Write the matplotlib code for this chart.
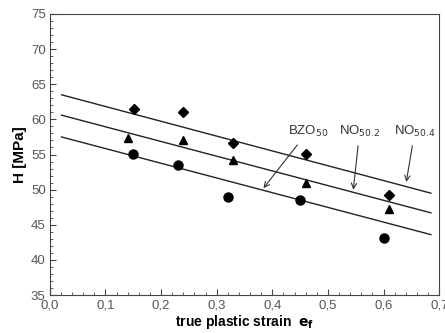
import numpy as np
import matplotlib
matplotlib.use("Agg")
from matplotlib import pyplot as plt
from matplotlib.ticker import MultipleLocator, FuncFormatter

# measured points
x_no504 = [0.151, 0.240, 0.330, 0.461, 0.610]
h_no504 = [61.5, 61.1, 56.6, 55.1, 49.2]
x_no502 = [0.140, 0.240, 0.330, 0.461, 0.610]
h_no502 = [57.4, 57.0, 54.2, 50.9, 47.2]
x_bzo50 = [0.150, 0.230, 0.320, 0.450, 0.600]
h_bzo50 = [55.1, 53.5, 49.0, 48.5, 43.1]

# fitted lines (start / end)
fit_x = [0.021, 0.685]
fit_no504 = [63.5, 49.5]
fit_no502 = [60.6, 46.7]
fit_bzo50 = [57.5, 43.6]

plt.rcParams['font.family'] = ['Liberation Sans', 'DejaVu Sans']

fig = plt.figure(figsize=(4.45, 3.33), dpi=100)
ax = fig.add_axes([0.112, 0.114, 0.875, 0.844])

for fy in (fit_no504, fit_no502, fit_bzo50):
    ax.plot(fit_x, fy, color='#222222', lw=1.0)

ax.plot(x_no504, h_no504, 'D', color='black', ms=5.5, ls='none')
ax.plot(x_no502, h_no502, '^', color='black', ms=6, ls='none')
ax.plot(x_bzo50, h_bzo50, 'o', color='black', ms=6.5, ls='none')

arrow = dict(arrowstyle='->', color='#333333', lw=0.8, shrinkA=3)
ax.annotate('BZO$_{50}$', xy=(0.381, 49.9), xytext=(0.464, 58.3),
            ha='center', va='center', fontsize=9.5, color='#333333', arrowprops=arrow)
ax.annotate('NO$_{50.2}$', xy=(0.545, 49.6), xytext=(0.557, 58.3),
            ha='center', va='center', fontsize=9.5, color='#333333', arrowprops=arrow)
ax.annotate('NO$_{50.4}$', xy=(0.640, 50.7), xytext=(0.656, 58.3),
            ha='center', va='center', fontsize=9.5, color='#333333', arrowprops=arrow)

ax.set_xlim(0, 0.7)
ax.set_ylim(35, 75)
ax.xaxis.set_major_locator(MultipleLocator(0.1))
ax.xaxis.set_minor_locator(MultipleLocator(0.02))
ax.yaxis.set_major_locator(MultipleLocator(5))
ax.yaxis.set_minor_locator(MultipleLocator(1))
ax.xaxis.set_major_formatter(FuncFormatter(lambda v, p: ('%.1f' % v).replace('.', ',')))
ax.yaxis.set_major_formatter(FuncFormatter(lambda v, p: '%d' % v))
ax.tick_params(which='major', direction='in', length=4, width=0.8, labelsize=9.5,
               labelcolor='#555555', color='#444444', pad=3)
ax.tick_params(which='minor', direction='in', length=2, width=0.6, color='#444444')
for s in ax.spines.values():
    s.set_color('#444444')
    s.set_linewidth(0.8)

ax.set_xlabel('true plastic strain  $\\mathbf{e_f}$', fontsize=10, fontweight='bold', labelpad=1.5)
ax.set_ylabel('H [MPa]', fontsize=11, fontweight='bold', labelpad=3)

plt.savefig('out.png', dpi=100)
